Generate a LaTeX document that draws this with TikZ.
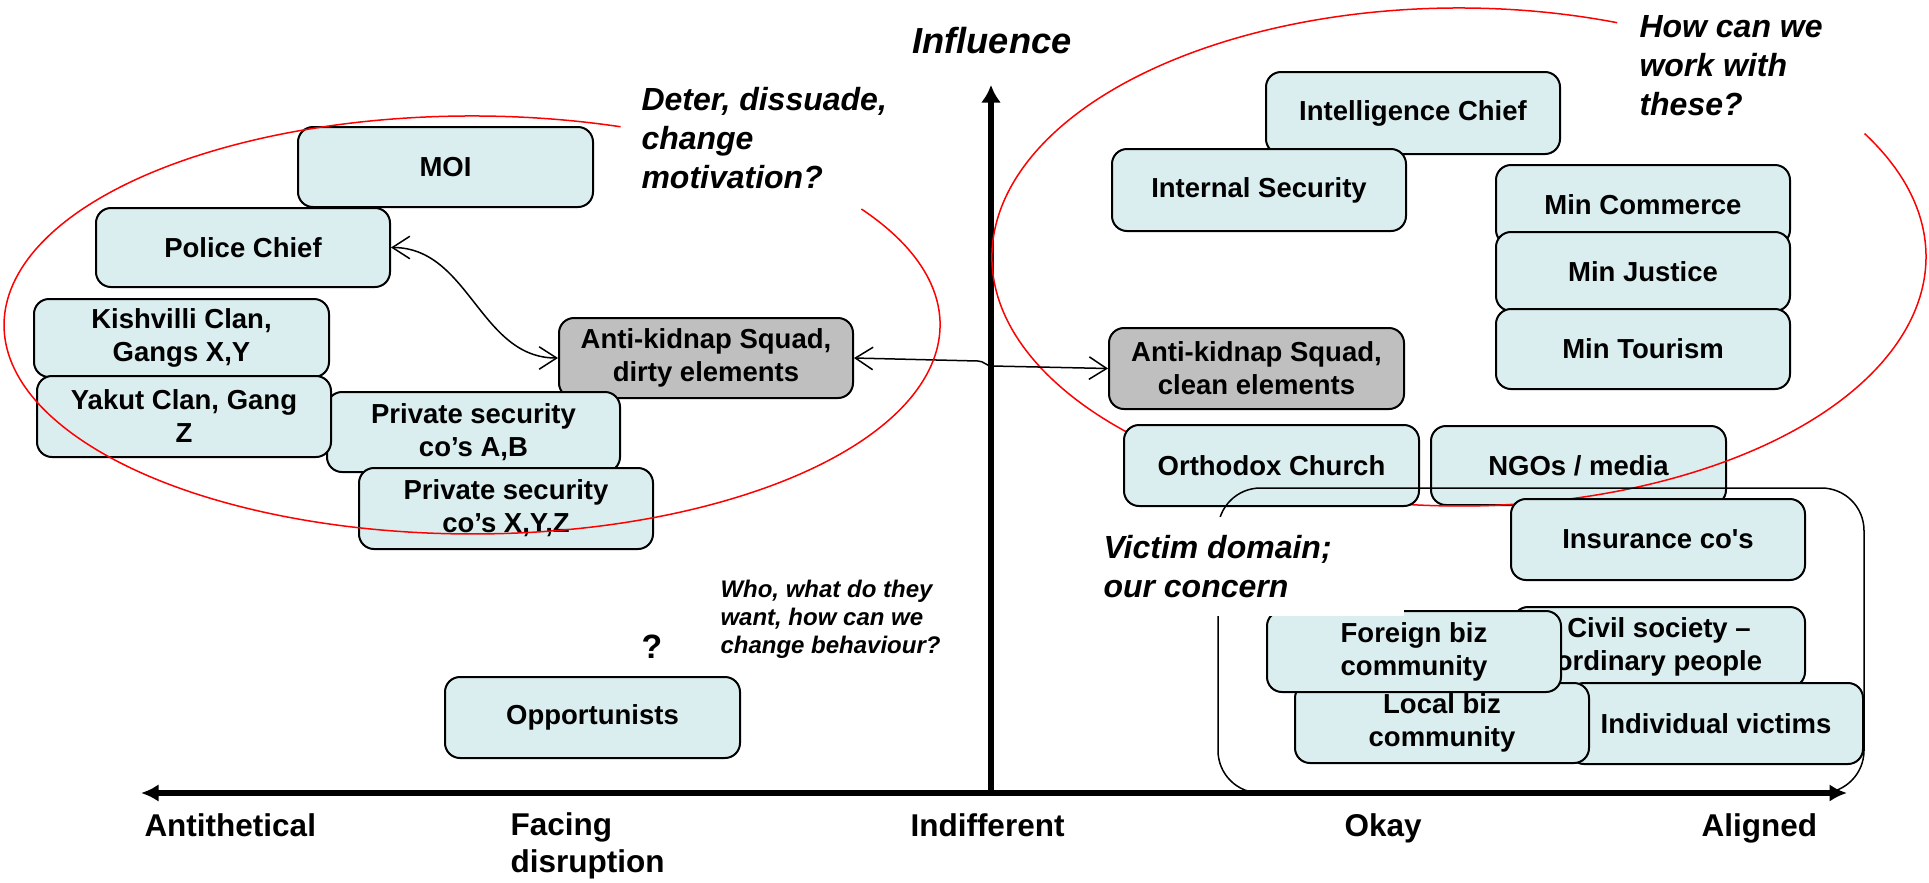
\documentclass[tikz,border=0pt]{standalone}
\usepackage{fontspec}
\setmainfont{Liberation Sans}
\usetikzlibrary{arrows.meta}
\definecolor{boxfill}{RGB}{218,238,240}
\definecolor{greyfill}{RGB}{191,191,191}
\newcommand\mkbox[7]{\node[#6, minimum width={(#4-#2)*0.4pt}, minimum height={(#5-#3)*0.4pt}] (#1) at ({(#2+#4)/2},{(#3+#5)/2}) {#7};}
\begin{document}
\begin{tikzpicture}[x=0.4pt,y=-0.4pt,
  stdbox/.style={draw=black, line width=0.8pt, rounded corners=6pt, fill=boxfill, inner sep=0pt, align=center, font=\fontsize{11}{13.2}\selectfont\bfseries},
  greybox/.style={stdbox, fill=greyfill},
  ann/.style={font=\fontsize{12.8}{15.6}\selectfont\bfseries\itshape, align=left, inner sep=0pt},
  smallann/.style={font=\fontsize{9.6}{11.2}\selectfont\bfseries\itshape, align=left, inner sep=0pt},
  axlab/.style={font=\fontsize{12.6}{14.6}\selectfont\bfseries, align=left, inner sep=0pt},
  redline/.style={draw=red, line width=0.6pt},
  conn/.style={line width=0.6pt, {Straight Barb[length=7pt,width=9pt]}-{Straight Barb[length=7pt,width=9pt]}},
  haxis/.style={line width=2.4pt, {Latex[length=7pt,width=7pt]}-{Latex[length=7pt,width=7pt]}},
  vaxis/.style={line width=2.4pt, -{Latex[length=7pt,width=8pt]}}]
\useasboundingbox (0,0) rectangle (1929,882);
% axes
\coordinate (hL) at (141,793);
\coordinate (hR) at (1847,793);
\coordinate (vB) at (991,793);
\coordinate (vT) at (991,85);
\draw[haxis] (hL) -- (hR);
\draw[vaxis] (vB) -- (vT);
% axis labels (base anchor of a multi-line node = last line)
\node[axlab, anchor=base west] (lab1) at (144,836) {Antithetical};
\node[axlab, anchor=base west] (lab2) at (510,872) {Facing\\disruption};
\node[axlab, anchor=base west] (lab3) at (910,836) {Indifferent};
\node[axlab, anchor=base west] (lab4) at (1344,836) {Okay};
\node[axlab, anchor=base west] (lab5) at (1701,836) {Aligned};
\node[anchor=base, inner sep=0pt, font=\fontsize{14.5}{17}\selectfont\bfseries\itshape] (infl) at (992,53) {Influence};
% left boxes
\mkbox{moi}{298}{127}{593}{207}{stdbox}{MOI}
\mkbox{police}{96}{208}{390}{287}{stdbox}{Police Chief}
\mkbox{kish}{34}{299}{329}{377}{stdbox}{Kishvilli Clan,\\Gangs X,Y}
\mkbox{dirty}{559}{318}{853}{398}{greybox}{Anti-kidnap Squad,\\dirty elements}
\mkbox{pab}{327}{392}{620}{472}{stdbox}{Private security\\co’s A,B}
\mkbox{yakut}{37}{376}{331}{457}{stdbox}{Yakut Clan, Gang\\Z}
\mkbox{pxyz}{359}{468}{653}{549}{stdbox}{Private security\\co’s X,Y,Z}
\mkbox{opp}{445}{677}{740}{758}{stdbox}{Opportunists}
% right boxes
\mkbox{intel}{1266}{72}{1560}{154}{stdbox}{Intelligence Chief}
\mkbox{internal}{1112}{149}{1406}{231}{stdbox}{Internal Security}
\mkbox{mcom}{1496}{165}{1790}{245}{stdbox}{Min Commerce}
\mkbox{mjus}{1496}{232}{1790}{311}{stdbox}{Min Justice}
\mkbox{mtour}{1496}{309}{1790}{389}{stdbox}{Min Tourism}
\mkbox{clean}{1109}{328}{1404}{409}{greybox}{Anti-kidnap Squad,\\clean elements}
\mkbox{ngo}{1431}{426}{1726}{505}{stdbox}{NGOs / media}
% right red ellipse
\draw[redline] (1864.6,133.6) arc[start angle=-29.7, end angle=289.8, x radius=467, y radius=249];
\mkbox{orth}{1124}{425}{1419}{506}{stdbox}{Orthodox Church}
% victim domain frame
\draw[line width=0.6pt, rounded corners=17pt] (1218,793) rectangle (1864,488);
\mkbox{ins}{1511}{499}{1805}{580}{stdbox}{Insurance co\textquotesingle s}
\mkbox{civ}{1513}{607}{1805}{687}{stdbox}{Civil society –\\ordinary people}
\mkbox{ind}{1569}{683}{1863}{764}{stdbox}{Individual victims}
\mkbox{local}{1295}{683}{1589}{763}{stdbox}{Local biz\\community}
\mkbox{foreign}{1267}{611}{1561}{692}{stdbox}{Foreign biz\\community}
\fill[white] (1098,517) rectangle (1404,616);
\node[ann, anchor=base west] (victim) at (1103,597) {Victim domain;\\our concern};
% annotations
\node[ann, anchor=base west] (deter) at (641,188) {Deter, dissuade,\\change\\motivation?};
\node[ann, anchor=base west] (howcan) at (1639,115) {How can we\\work with\\these?};
\node[smallann, anchor=base west] (who) at (720,653) {Who, what do they\\want, how can we\\change behaviour?};
\node[inner sep=0pt, anchor=base, font=\fontsize{13.5}{16}\selectfont\bfseries] (qmark) at (652,658) {?};
% connectors
\coordinate (kinkA) at (978,361);
\coordinate (kinkB) at (992,366);
\draw[conn] (police.east) to[out=0,in=180] (dirty.west);
\draw[conn] (dirty.east) -- (kinkA) to[out=0,in=180] (kinkB) -- (clean.west);
% left red ellipse
\draw[redline] (861.4,209) arc[start angle=-33.7, end angle=288.5, x radius=468, y radius=209];
\end{tikzpicture}
\end{document}
